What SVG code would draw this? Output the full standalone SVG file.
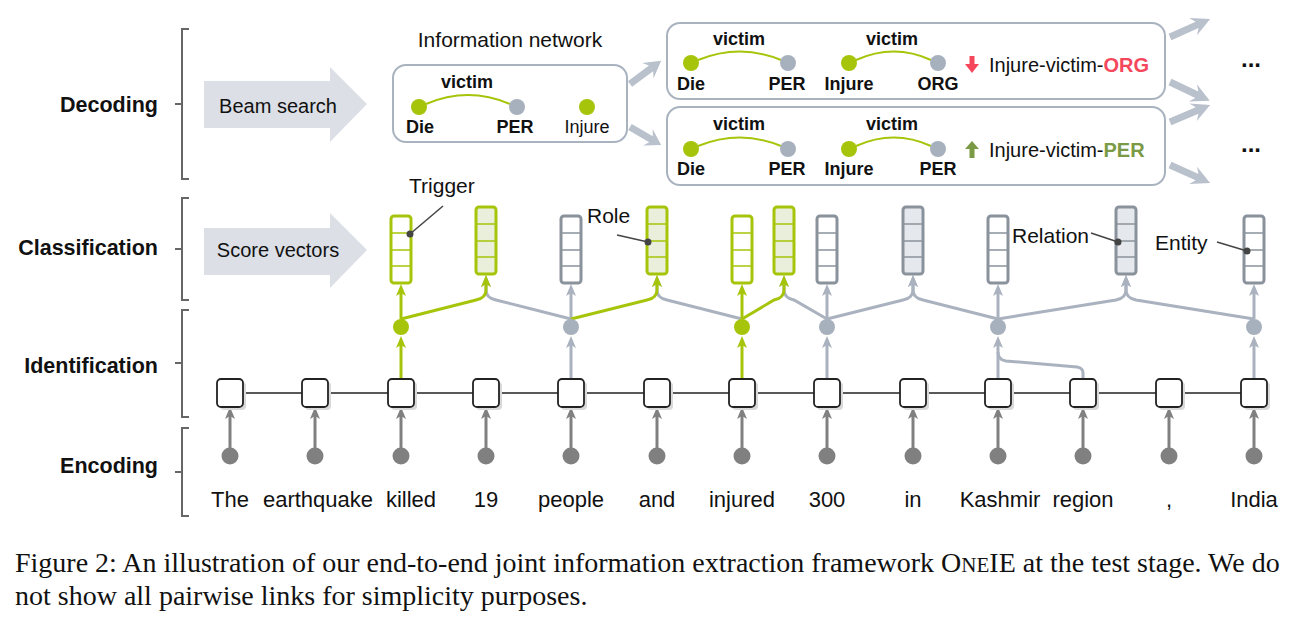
<svg xmlns="http://www.w3.org/2000/svg" width="1306" height="633" viewBox="0 0 1306 633">
<style>
text{font-family:"Liberation Sans",Arial,sans-serif;fill:#111}
.lab{font-size:21.5px;font-weight:bold;text-anchor:end}
.brk{fill:none;stroke:#666;stroke-width:2}
.big{fill:#dcdfe6}
.bt{font-size:20px;text-anchor:middle}
.box{fill:#fff;stroke:#a9b3c0;stroke-width:2}
.gd{fill:#a6c50a}
.bd{fill:#a7b0bd}
.arc{fill:none;stroke:#a6c50a;stroke-width:2}
.nl{font-size:18px;font-weight:bold;text-anchor:middle}
.nr{font-size:18px;text-anchor:middle}
.fat{fill:#b9c1cc}
.enc{fill:#fff;stroke:#222;stroke-width:1.8}
.sh{fill:#d9d9d9}
.word{font-size:22px;text-anchor:middle}
.vg{fill:#fff;stroke:#a6c50a;stroke-width:3}
.vgf{fill:#e9efda;stroke:#a6c50a;stroke-width:3}
.vb{fill:#fff;stroke:#8a929c;stroke-width:3}
.vbf{fill:#e5e8ec;stroke:#8a929c;stroke-width:3}
.dg{stroke:#a6c50a;stroke-width:1.5}
.db{stroke:#8a929c;stroke-width:1.5}
.cg{fill:none;stroke:#a6c50a;stroke-width:3;marker-end:url(#mG)}
.cb{fill:none;stroke:#a9b2be;stroke-width:3;marker-end:url(#mB)}
.cd{fill:none;stroke:#808080;stroke-width:3;marker-end:url(#mD)}
.ld{fill:none;stroke:#444;stroke-width:1.5}
.ldot{fill:#444}
.ann{font-size:21px}
.cap{font-family:"Liberation Serif","Times New Roman",serif;font-size:28px;fill:#111}
.dots{font-size:24px;font-weight:bold;text-anchor:middle}
</style>
<defs>
<marker id="mG" viewBox="0 0 12 10" refX="4" refY="5" markerWidth="12" markerHeight="10" markerUnits="userSpaceOnUse" orient="auto"><path d="M0,0 L12,5 L0,10 L3,5 z" fill="#a6c50a"/></marker>
<marker id="mB" viewBox="0 0 12 10" refX="4" refY="5" markerWidth="12" markerHeight="10" markerUnits="userSpaceOnUse" orient="auto"><path d="M0,0 L12,5 L0,10 L3,5 z" fill="#a9b2be"/></marker>
<marker id="mD" viewBox="0 0 12 10" refX="4" refY="5" markerWidth="12" markerHeight="10" markerUnits="userSpaceOnUse" orient="auto"><path d="M0,0 L12,5 L0,10 L3,5 z" fill="#808080"/></marker>
<path id="fatArrow" d="M0,-3.5 L27,-3.5 L23,-9.5 L40,0 L23,9.5 L27,3.5 L0,3.5 z"/>
</defs>

<g id="layer-labels">
<path class="brk" d="M189,29 L182,29 L182,179 L189,179 M175,104 L182,104"/>
<path class="brk" d="M189,198 L182,198 L182,300 L189,300 M175,249 L182,249"/>
<path class="brk" d="M189,310 L182,310 L182,417 L189,417 M175,363 L182,363"/>
<path class="brk" d="M189,428 L182,428 L182,516 L189,516 M175,472 L182,472"/>
<text class="lab" x="158" y="112">Decoding</text>
<text class="lab" x="158" y="255">Classification</text>
<text class="lab" x="158" y="373">Identification</text>
<text class="lab" x="158" y="473">Encoding</text>
</g>

<g id="beam-search">
<path class="big" d="M204,81 L330,81 L330,67 L367,104 L330,142 L330,128 L204,128 z"/>
<text class="bt" x="278" y="113">Beam search</text>
</g>
<g id="score-vectors">
<path class="big" d="M204,228 L330,228 L330,213 L367,250 L330,288 L330,275 L204,275 z"/>
<text class="bt" x="278" y="257">Score vectors</text>
</g>

<g id="info-network">
<text x="510" y="47" style="font-size:21px;text-anchor:middle">Information network</text>
<rect class="box" x="393" y="65" width="234" height="77" rx="13"/>
<text class="nl" x="467" y="88">victim</text>
<path class="arc" d="M426,104 Q468,86 510,104"/>
<circle class="gd" cx="419" cy="107" r="8"/>
<circle class="bd" cx="517" cy="107" r="8"/>
<circle class="gd" cx="587" cy="107" r="8"/>
<text class="nl" x="420" y="133">Die</text>
<text class="nl" x="515" y="133">PER</text>
<text class="nr" x="587" y="133">Injure</text>
</g>

<g id="beam-1">
<rect class="box" x="667" y="23" width="498" height="76" rx="13"/>
<text class="nl" x="739" y="45">victim</text>
<path class="arc" d="M698,60 Q740,43 781,60"/>
<circle class="gd" cx="691" cy="63" r="8"/>
<circle class="bd" cx="788" cy="63" r="8"/>
<text class="nl" x="691" y="90">Die</text>
<text class="nl" x="787" y="90">PER</text>
<text class="nl" x="892" y="45">victim</text>
<path class="arc" d="M856,60 Q894,43 931,60"/>
<circle class="gd" cx="849" cy="63" r="8"/>
<circle class="bd" cx="938" cy="63" r="8"/>
<text class="nl" x="849" y="90">Injure</text>
<text class="nl" x="938" y="90">ORG</text>
<path d="M969.5,56 L974.5,56 L974.5,64 L979,64 L972,73 L965,64 L969.5,64 z" fill="#f5475c"/>
<text x="989" y="72" style="font-size:20px">Injure-victim-<tspan style="fill:#f5475c;font-weight:bold">ORG</tspan></text>
</g>

<g id="beam-2">
<rect class="box" x="667" y="107" width="498" height="78" rx="13"/>
<text class="nl" x="739" y="130">victim</text>
<path class="arc" d="M698,146 Q740,129 781,146"/>
<circle class="gd" cx="691" cy="149" r="8"/>
<circle class="bd" cx="788" cy="149" r="8"/>
<text class="nl" x="691" y="175">Die</text>
<text class="nl" x="787" y="175">PER</text>
<text class="nl" x="892" y="130">victim</text>
<path class="arc" d="M856,146 Q894,129 931,146"/>
<circle class="gd" cx="849" cy="149" r="8"/>
<circle class="bd" cx="938" cy="149" r="8"/>
<text class="nl" x="849" y="175">Injure</text>
<text class="nl" x="938" y="175">PER</text>
<path d="M969.5,158 L974.5,158 L974.5,149 L979,149 L972,141 L965,149 L969.5,149 z" fill="#7a9a45"/>
<text x="989" y="157" style="font-size:20px">Injure-victim-<tspan style="fill:#7a9a45;font-weight:bold">PER</tspan></text>
</g>

<g id="ellipsis-1"><text class="dots" x="1251" y="67">...</text></g>
<g id="ellipsis-2"><text class="dots" x="1251" y="152">...</text></g>

<g id="decoding-arrows" class="fat">
<use href="#fatArrow" transform="translate(630,84) rotate(-36.6) scale(0.97,1)"/>
<use href="#fatArrow" transform="translate(630,127) rotate(30.1) scale(0.9,1)"/>
<use href="#fatArrow" transform="translate(1170,37) rotate(-24.2) scale(1.1,1)"/>
<use href="#fatArrow" transform="translate(1170,82) rotate(25.4) scale(1.1,1)"/>
<use href="#fatArrow" transform="translate(1170,122) rotate(-23) scale(1.09,1)"/>
<use href="#fatArrow" transform="translate(1170,165) rotate(24.2) scale(1.1,1)"/>
</g>

<g id="connectors">
<path class="cd" d="M230,448 L230,415"/>
<path class="cd" d="M315,448 L315,415"/>
<path class="cd" d="M401,448 L401,415"/>
<path class="cd" d="M486,448 L486,415"/>
<path class="cd" d="M571,448 L571,415"/>
<path class="cd" d="M657,448 L657,415"/>
<path class="cd" d="M742,448 L742,415"/>
<path class="cd" d="M827,448 L827,415"/>
<path class="cd" d="M913,448 L913,415"/>
<path class="cd" d="M998,448 L998,415"/>
<path class="cd" d="M1083,448 L1083,415"/>
<path class="cd" d="M1169,448 L1169,415"/>
<path class="cd" d="M1254,448 L1254,415"/>
<path class="cb" d="M1083,379 L1083,373 Q1083,368 1077,367 L1006,361 Q998,360 998,352" style="marker-end:none"/>
<path class="cb" d="M571,379 L571,344"/>
<path class="cb" d="M827,379 L827,344"/>
<path class="cb" d="M998,379 L998,344"/>
<path class="cb" d="M1254,379 L1254,344"/>
<path class="cg" d="M401,379 L401,344"/>
<path class="cg" d="M742,379 L742,344"/>
<path class="cb" d="M571,319 L496,300 Q486,298 486,290 L486,283"/>
<path class="cb" d="M742,319 L667,300 Q657,298 657,290 L657,283"/>
<path class="cb" d="M827,319 L794,300 Q784,298 784,290 L784,283"/>
<path class="cb" d="M827,319 L903,300 Q913,298 913,290 L913,283"/>
<path class="cb" d="M998,319 L923,300 Q913,298 913,290 L913,283"/>
<path class="cb" d="M998,319 L1116,300 Q1126,298 1126,290 L1126,283"/>
<path class="cb" d="M1254,319 L1136,300 Q1126,298 1126,290 L1126,283"/>
<path class="cb" d="M571,319 L571,292"/>
<path class="cb" d="M827,319 L827,292"/>
<path class="cb" d="M998,319 L998,292"/>
<path class="cb" d="M1254,319 L1254,292"/>
<path class="cg" d="M401,319 L476,300 Q486,298 486,290 L486,283"/>
<path class="cg" d="M571,319 L647,300 Q657,298 657,290 L657,283"/>
<path class="cg" d="M742,319 L774,300 Q784,298 784,290 L784,283"/>
<path class="cg" d="M401,319 L401,292"/>
<path class="cg" d="M742,319 L742,292"/>
</g>

<g id="identification-nodes">
<circle class="gd" cx="401" cy="327" r="8"/>
<circle class="bd" cx="571" cy="327" r="8"/>
<circle class="gd" cx="742" cy="327" r="8"/>
<circle class="bd" cx="827" cy="327" r="8"/>
<circle class="bd" cx="998" cy="327" r="8"/>
<circle class="bd" cx="1254" cy="327" r="8"/>
</g>

<g id="vectors">
<g id="vec-killed"><rect class="vg" x="391" y="216" width="20" height="67" rx="3"/><path class="dg" d="M391,233 H411 M391,250 H411 M391,266 H411"/></g>
<g id="vec-role-1"><rect class="vgf" x="476" y="207" width="20" height="67" rx="3"/><path class="dg" d="M476,224 H496 M476,241 H496 M476,257 H496"/></g>
<g id="vec-people"><rect class="vb" x="561" y="216" width="20" height="67" rx="3"/><path class="db" d="M561,233 H581 M561,250 H581 M561,266 H581"/></g>
<g id="vec-role-2"><rect class="vgf" x="647" y="207" width="20" height="67" rx="3"/><path class="dg" d="M647,224 H667 M647,241 H667 M647,257 H667"/></g>
<g id="vec-injured"><rect class="vg" x="732" y="216" width="20" height="67" rx="3"/><path class="dg" d="M732,233 H752 M732,250 H752 M732,266 H752"/></g>
<g id="vec-role-3"><rect class="vgf" x="774" y="207" width="20" height="67" rx="3"/><path class="dg" d="M774,224 H794 M774,241 H794 M774,257 H794"/></g>
<g id="vec-300"><rect class="vb" x="817" y="216" width="20" height="67" rx="3"/><path class="db" d="M817,233 H837 M817,250 H837 M817,266 H837"/></g>
<g id="vec-rel-1"><rect class="vbf" x="903" y="207" width="20" height="67" rx="3"/><path class="db" d="M903,224 H923 M903,241 H923 M903,257 H923"/></g>
<g id="vec-kashmir"><rect class="vb" x="988" y="216" width="20" height="67" rx="3"/><path class="db" d="M988,233 H1008 M988,250 H1008 M988,266 H1008"/></g>
<g id="vec-rel-2"><rect class="vbf" x="1116" y="207" width="20" height="67" rx="3"/><path class="db" d="M1116,224 H1136 M1116,241 H1136 M1116,257 H1136"/></g>
<g id="vec-india"><rect class="vb" x="1244" y="216" width="20" height="67" rx="3"/><path class="db" d="M1244,233 H1264 M1244,250 H1264 M1244,266 H1264"/></g>
</g>

<g id="annotations">
<text class="ann" x="409" y="193">Trigger</text>
<path class="ld" d="M443,206 L410,234"/><circle class="ldot" cx="410" cy="234" r="3.5"/>
<text class="ann" x="587" y="223">Role</text>
<path class="ld" d="M617,235 L648,242"/><circle class="ldot" cx="648" cy="242" r="3.5"/>
<text class="ann" x="1012" y="243">Relation</text>
<path class="ld" d="M1091,233 L1118,242"/><circle class="ldot" cx="1118" cy="242" r="3.5"/>
<text class="ann" x="1155" y="250">Entity</text>
<path class="ld" d="M1217,242 L1247,251"/><circle class="ldot" cx="1247" cy="251" r="3.5"/>
</g>

<g id="encoder">
<path d="M230,393 H1254" stroke="#222" stroke-width="1.5"/>
<g id="enc-0"><rect class="sh" x="220" y="382" width="26" height="28" rx="4"/><rect class="enc" x="217" y="379" width="26" height="28" rx="4"/><circle fill="#808080" cx="230" cy="456" r="8.5"/><text class="word" x="230" y="507">The</text></g>
<g id="enc-1"><rect class="sh" x="305" y="382" width="26" height="28" rx="4"/><rect class="enc" x="302" y="379" width="26" height="28" rx="4"/><circle fill="#808080" cx="315" cy="456" r="8.5"/><text class="word" x="318" y="507">earthquake</text></g>
<g id="enc-2"><rect class="sh" x="391" y="382" width="26" height="28" rx="4"/><rect class="enc" x="388" y="379" width="26" height="28" rx="4"/><circle fill="#808080" cx="401" cy="456" r="8.5"/><text class="word" x="411" y="507">killed</text></g>
<g id="enc-3"><rect class="sh" x="476" y="382" width="26" height="28" rx="4"/><rect class="enc" x="473" y="379" width="26" height="28" rx="4"/><circle fill="#808080" cx="486" cy="456" r="8.5"/><text class="word" x="486" y="507">19</text></g>
<g id="enc-4"><rect class="sh" x="561" y="382" width="26" height="28" rx="4"/><rect class="enc" x="558" y="379" width="26" height="28" rx="4"/><circle fill="#808080" cx="571" cy="456" r="8.5"/><text class="word" x="571" y="507">people</text></g>
<g id="enc-5"><rect class="sh" x="647" y="382" width="26" height="28" rx="4"/><rect class="enc" x="644" y="379" width="26" height="28" rx="4"/><circle fill="#808080" cx="657" cy="456" r="8.5"/><text class="word" x="657" y="507">and</text></g>
<g id="enc-6"><rect class="sh" x="732" y="382" width="26" height="28" rx="4"/><rect class="enc" x="729" y="379" width="26" height="28" rx="4"/><circle fill="#808080" cx="742" cy="456" r="8.5"/><text class="word" x="742" y="507">injured</text></g>
<g id="enc-7"><rect class="sh" x="817" y="382" width="26" height="28" rx="4"/><rect class="enc" x="814" y="379" width="26" height="28" rx="4"/><circle fill="#808080" cx="827" cy="456" r="8.5"/><text class="word" x="827" y="507">300</text></g>
<g id="enc-8"><rect class="sh" x="903" y="382" width="26" height="28" rx="4"/><rect class="enc" x="900" y="379" width="26" height="28" rx="4"/><circle fill="#808080" cx="913" cy="456" r="8.5"/><text class="word" x="913" y="507">in</text></g>
<g id="enc-9"><rect class="sh" x="988" y="382" width="26" height="28" rx="4"/><rect class="enc" x="985" y="379" width="26" height="28" rx="4"/><circle fill="#808080" cx="998" cy="456" r="8.5"/><text class="word" x="1000" y="507">Kashmir</text></g>
<g id="enc-10"><rect class="sh" x="1073" y="382" width="26" height="28" rx="4"/><rect class="enc" x="1070" y="379" width="26" height="28" rx="4"/><circle fill="#808080" cx="1083" cy="456" r="8.5"/><text class="word" x="1083" y="507">region</text></g>
<g id="enc-11"><rect class="sh" x="1159" y="382" width="26" height="28" rx="4"/><rect class="enc" x="1156" y="379" width="26" height="28" rx="4"/><circle fill="#808080" cx="1169" cy="456" r="8.5"/><text class="word" x="1169" y="507">,</text></g>
<g id="enc-12"><rect class="sh" x="1244" y="382" width="26" height="28" rx="4"/><rect class="enc" x="1241" y="379" width="26" height="28" rx="4"/><circle fill="#808080" cx="1254" cy="456" r="8.5"/><text class="word" x="1254" y="507">India</text></g>
</g>

<g id="caption">
<text class="cap" x="15" y="572">Figure 2: An illustration of our end-to-end joint information extraction framework O<tspan style="font-size:21px">NE</tspan>IE at the test stage. We do</text>
<text class="cap" x="15" y="605">not show all pairwise links for simplicity purposes.</text>
</g>
</svg>
